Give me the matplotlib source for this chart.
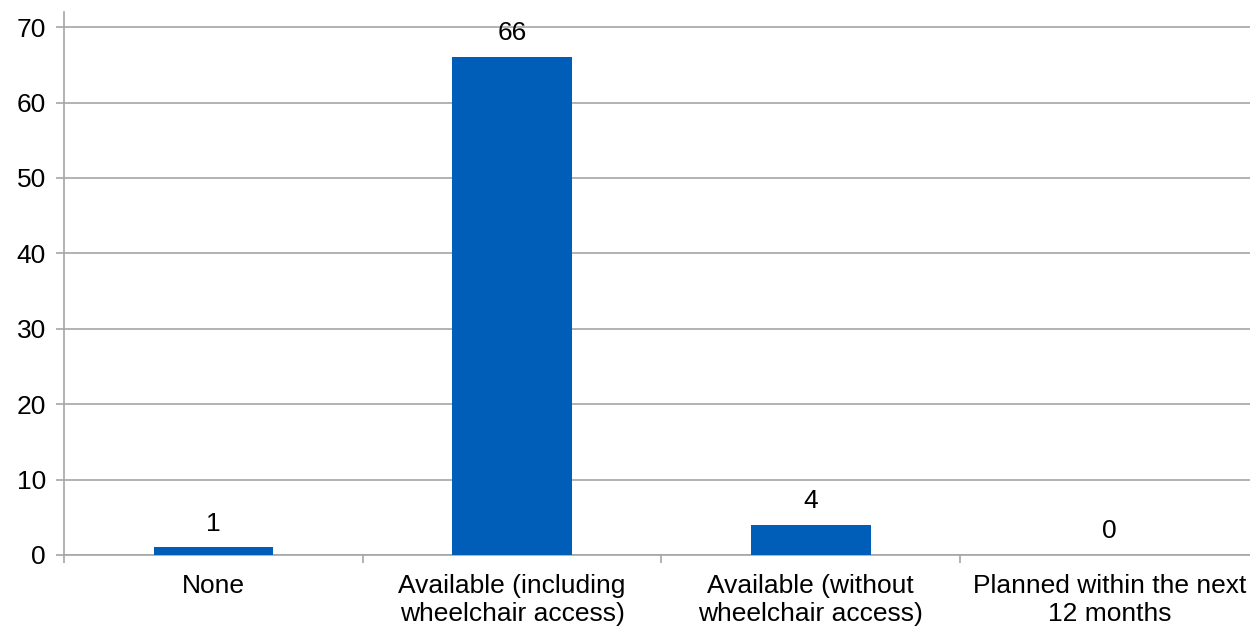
import numpy as np
import matplotlib
matplotlib.use("Agg")
import matplotlib.pyplot as plt

categories = ["None", "Available (including\nwheelchair access)",
              "Available (without\nwheelchair access)", "Planned within the next\n12 months"]
values = [1, 66, 4, 0]

plt.rcParams['font.family'] = ['Liberation Sans', 'DejaVu Sans']
plt.rcParams['font.size'] = 19

fig = plt.figure(figsize=(12.5, 6.29), dpi=100)
ax = fig.add_axes([64 / 1250, 74 / 629, 1195 / 1250, 543 / 629])

x = np.arange(len(categories))
ax.bar(x, values, width=0.4, color="#005EB8", zorder=3)
for xi, v in zip(x, values):
    ax.annotate(str(v), (xi, v), xytext=(0, 8.5), textcoords="offset points",
                ha="center", va="bottom", fontsize=19)

ax.set_xlim(-0.5, len(categories) - 0.5)
ax.set_ylim(0, 72)
ax.set_yticks(range(0, 71, 10))
ax.yaxis.grid(True, color="#A6A6A6", linewidth=1.2, zorder=0)

ax.set_xticks(np.arange(len(categories) + 1) - 0.5)
ax.set_xticklabels([])
ax.set_xticks(x, minor=True)
ax.set_xticklabels(categories, minor=True, linespacing=1.2)
ax.tick_params(axis="x", which="major", length=6, color="#A6A6A6", width=1.2)
ax.tick_params(axis="x", which="minor", length=0, pad=14)
ax.tick_params(axis="y", length=6, color="#A6A6A6", width=1.2, pad=7)

for s in ["top", "right"]:
    ax.spines[s].set_visible(False)
for s in ["left", "bottom"]:
    ax.spines[s].set_color("#A6A6A6")
    ax.spines[s].set_linewidth(1.2)

fig.savefig("out.png", dpi=100)
